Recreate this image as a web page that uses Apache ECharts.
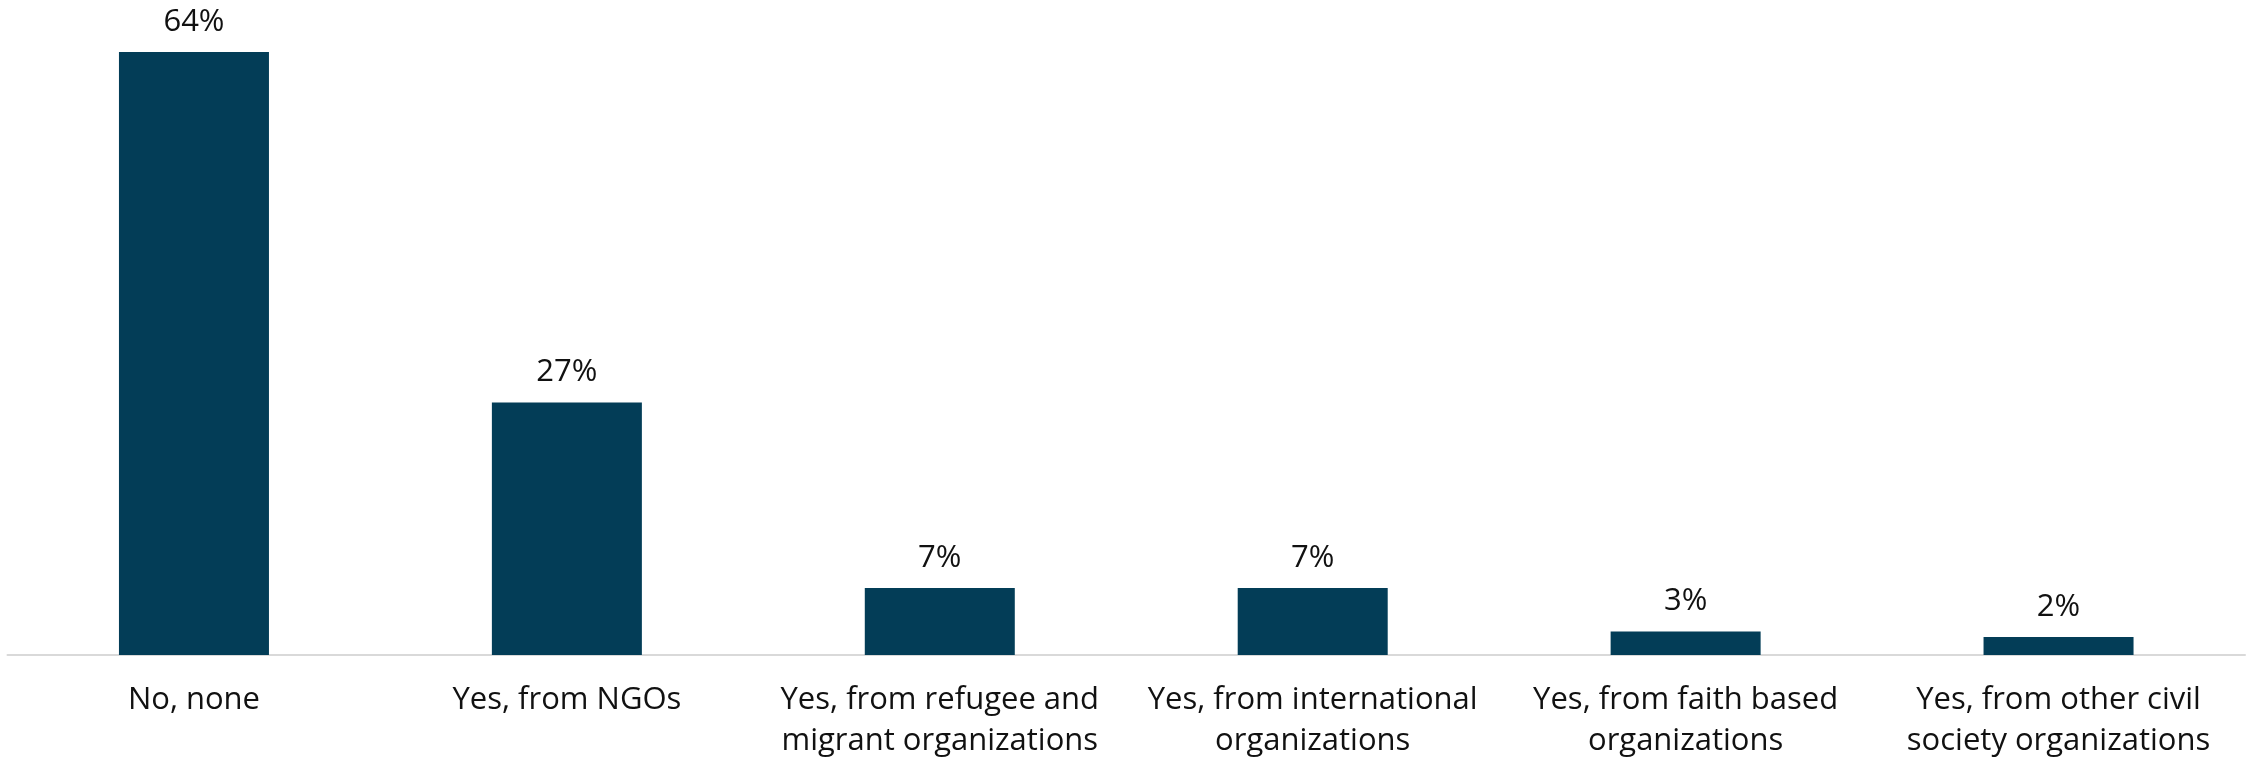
<!DOCTYPE html>
<html>
<head>
<meta charset="utf-8">
<script src="https://cdn.jsdelivr.net/npm/echarts@6/dist/echarts.min.js"></script>
<style>
html,body{margin:0;padding:0;background:#fff;}
#chart{width:2254px;height:757px;}
</style>
</head>
<body>
<div id="chart"></div>
<script>
const categories = [
  "No, none",
  "Yes, from NGOs",
  "Yes, from refugee and\nmigrant organizations",
  "Yes, from international\norganizations",
  "Yes, from faith based\norganizations",
  "Yes, from other civil\nsociety organizations"
];
const values = [64, 26.8, 7.1, 7.1, 2.5, 1.9];

const chart = echarts.init(document.getElementById('chart'), null, {renderer: 'canvas'});
chart.setOption({
  animation: false,
  backgroundColor: '#ffffff',
  grid: {left: 7.5, right: 9, top: 52, bottom: 102, containLabel: false, outerBoundsMode: 'none'},
  xAxis: {
    type: 'category',
    data: categories,
    axisLine: {show: true, lineStyle: {color: '#d9d9d9', width: 2}},
    axisTick: {show: false},
    axisLabel: {
      interval: 0,
      margin: 25,
      color: '#111111',
      fontFamily: 'Open Sans',
      fontSize: 31,
      lineHeight: 41
    }
  },
  yAxis: {
    type: 'value',
    min: 0,
    max: 64,
    show: false,
    splitLine: {show: false}
  },
  series: [{
    type: 'bar',
    data: values,
    barWidth: 150,
    itemStyle: {color: '#033D57'},
    label: {
      show: true,
      position: 'top',
      distance: 12,
      color: '#111111',
      fontFamily: 'Open Sans',
      fontSize: 31,
      lineHeight: 36,
      formatter: p => Math.round(p.value) + '%'
    }
  }]
});
</script>
</body>
</html>
